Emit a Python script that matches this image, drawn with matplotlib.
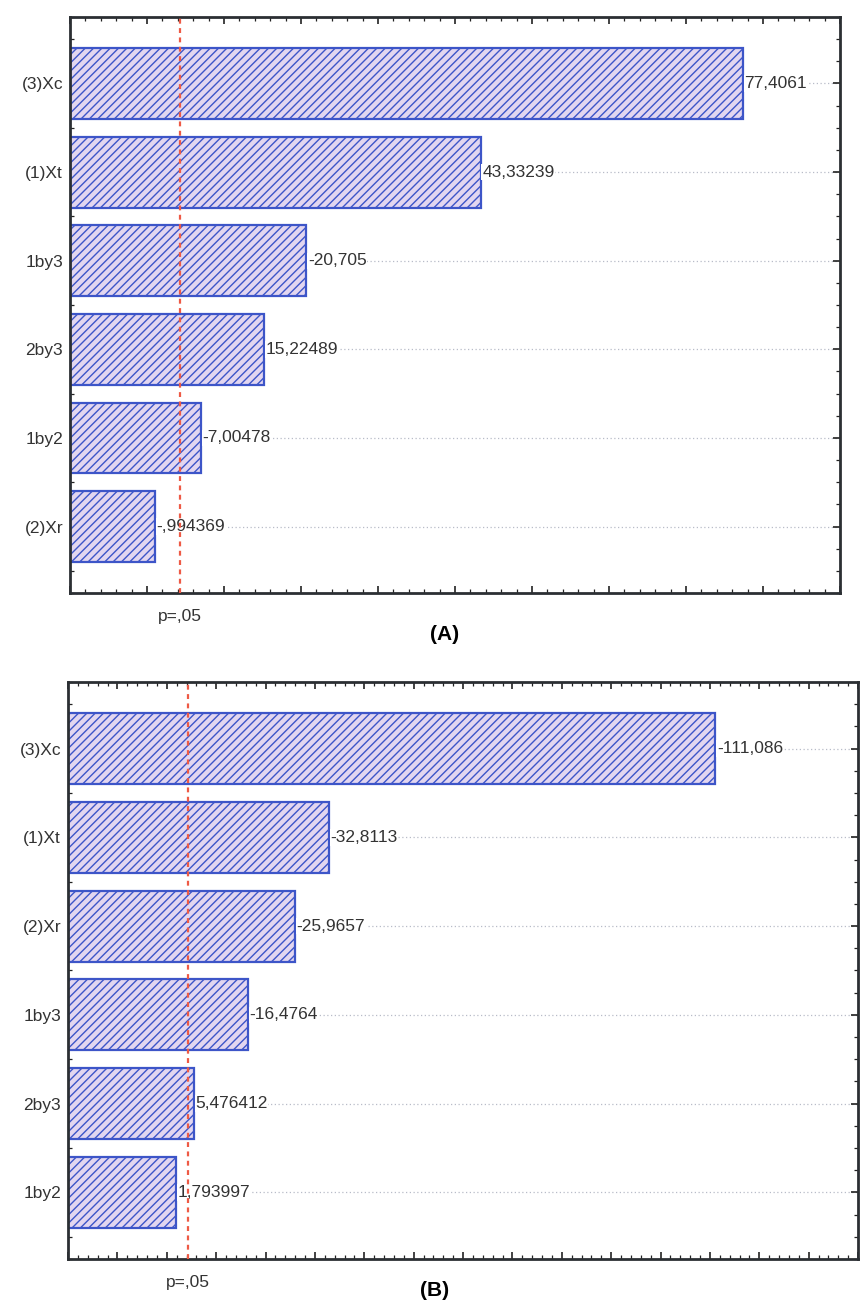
import numpy as np
import matplotlib
matplotlib.use("Agg")
import matplotlib.pyplot as plt
from matplotlib.ticker import MultipleLocator, NullFormatter

plt.rcParams['font.family'] = ['Liberation Sans', 'DejaVu Sans']
plt.rcParams['hatch.linewidth'] = 1.0

# panel A: standardized effects (signed), ordered top to bottom
cats_a = ["(3)Xc", "(1)Xt", "1by3", "2by3", "1by2", "(2)Xr"]
effects_a = [77.4061, 43.33239, -20.705, 15.22489, -7.00478, -0.994369]
xlim_a = (-10, 90)

# panel B
cats_b = ["(3)Xc", "(1)Xt", "(2)Xr", "1by3", "2by3", "1by2"]
effects_b = [-111.086, -32.8113, -25.9657, -16.4764, 5.476412, 1.793997]
xlim_b = (-20, 140)

p_crit = 4.303  # t critical value at p=.05

BAR_EDGE = "#3d55c8"
BAR_FACE = "#e2d6f0"


def fmt(v):
    # Statistica style: comma decimal, no leading zero
    s = repr(v).replace("-0.", "-.")
    if s.startswith("0."):
        s = s[1:]
    return s.replace(".", ",")


def pareto(ax, cats, effects, xlim):
    n = len(cats)
    ypos = np.arange(n)[::-1]
    base = xlim[0]
    widths = [abs(e) - base for e in effects]

    for y in ypos:
        ax.axhline(y, color="#b8bcc8", lw=0.9, ls=(0, (1, 2)), zorder=0)

    ax.barh(ypos, widths, left=base, height=0.8, color=BAR_FACE,
            edgecolor=BAR_EDGE, hatch="////", linewidth=1.6, zorder=2)

    span = xlim[1] - xlim[0]
    for y, e in zip(ypos, effects):
        ax.text(abs(e) + span * 0.002, y, fmt(e), ha="left", va="center",
                fontsize=12.5, color="#333333", zorder=4,
                bbox=dict(facecolor="white", edgecolor="none", pad=0.5))

    ax.axvline(p_crit, color="#ee5a45", ls=(0, (2.2, 2)), lw=1.6, zorder=5)
    ax.text(p_crit, -0.93, "p=,05", ha="center", va="top", fontsize=12.5,
            color="#333333")

    ax.set_xlim(*xlim)
    ax.set_ylim(-0.75, n - 0.25)
    ax.set_yticks(ypos)
    ax.set_yticklabels(cats, fontsize=12.5, color="#333333")
    ax.yaxis.set_minor_locator(MultipleLocator(0.25))
    ax.xaxis.set_major_locator(MultipleLocator(10))
    ax.xaxis.set_minor_locator(MultipleLocator(2))
    ax.xaxis.set_major_formatter(NullFormatter())
    ax.tick_params(which="both", direction="in", top=True, right=True,
                   color="#222222")
    ax.tick_params(which="major", length=5, width=1.2)
    ax.tick_params(which="minor", length=3, width=0.9)
    ax.tick_params(axis="y", which="major", pad=5)
    for sp in ax.spines.values():
        sp.set_linewidth(2)
        sp.set_color("#2b2f33")


fig = plt.figure(figsize=(8.6, 13.06), dpi=100)
ax_a = fig.add_axes([0.0814, 0.5459, 0.8953, 0.4411])
ax_b = fig.add_axes([0.0791, 0.0360, 0.9186, 0.4418])

pareto(ax_a, cats_a, effects_a, xlim_a)
pareto(ax_b, cats_b, effects_b, xlim_b)

fig.text(445 / 860, 1 - 635 / 1306, "(A)", ha="center", va="center",
         fontsize=15, fontweight="bold")
fig.text(435 / 860, 1 - 1291 / 1306, "(B)", ha="center", va="center",
         fontsize=15, fontweight="bold")

fig.savefig("out.png", dpi=100, facecolor="white")
